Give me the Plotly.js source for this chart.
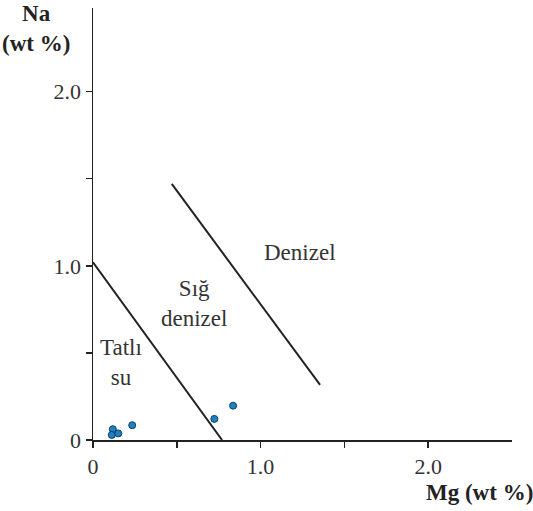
<!DOCTYPE html>
<html>
<head>
<meta charset="utf-8">
<script src="https://cdn.plot.ly/plotly-3.0.1.min.js"></script>
<style>html,body{margin:0;padding:0;background:#fff;}#chart{width:533px;height:511px;}</style>
</head>
<body>
<div id="chart"></div>
<script>
// Sample points
const mgValues = [0.118, 0.112, 0.151, 0.234, 0.724, 0.836];
const naValues = [0.062, 0.029, 0.038, 0.085, 0.121, 0.197];

// Boundary lines
const tatliLineX = [0, 0.77];
const tatliLineY = [1.02, 0];
const denizelLineX = [0.47, 1.355];
const denizelLineY = [1.47, 0.316];

// Ticks
const tickVals = [0, 0.5, 1.0, 1.5, 2.0];
const tickText = ["0", "", "1.0", "", "2.0"];

// Region labels
const regionLabels = ["Denizel", "Sığ<br>denizel", "Tatlı<br>su"];
const regionX = [1.236, 0.603, 0.167];
const regionY = [1.075, 0.785, 0.445];

const serif = "Times New Roman, Liberation Serif, DejaVu Serif, serif";

const traces = [
  {x: tatliLineX, y: tatliLineY, mode: "lines", line: {color: "#222", width: 2}, hoverinfo: "skip"},
  {x: denizelLineX, y: denizelLineY, mode: "lines", line: {color: "#222", width: 2}, hoverinfo: "skip"},
  {x: mgValues, y: naValues, mode: "markers",
   marker: {color: "#1f80c4", size: 7, line: {color: "#10405e", width: 1}}}
];

const annotations = regionLabels.map((t, i) => ({
  x: regionX[i], y: regionY[i], xref: "x", yref: "y", text: t, showarrow: false,
  font: {family: serif, size: 23, color: "#333"}, align: "center"
}));
annotations.push({
  xref: "paper", yref: "paper", x: -0.135, y: 1.02, xanchor: "center", yanchor: "top",
  text: "<b>Na<br>(wt %)</b>", showarrow: false, align: "center",
  font: {family: serif, size: 23, color: "#222"}
});
annotations.push({
  xref: "paper", yref: "paper", x: 1.055, y: -0.088, xanchor: "right", yanchor: "top",
  text: "<b>Mg (wt %)</b>", showarrow: false,
  font: {family: serif, size: 23, color: "#222"}
});

const axisCommon = {
  showgrid: false, zeroline: false, showline: true, linecolor: "#222", linewidth: 1.5,
  ticks: "outside", ticklen: 6, tickcolor: "#222", tickwidth: 1.5,
  tickvals: tickVals, ticktext: tickText,
  tickfont: {family: serif, size: 22, color: "#333"}
};

const layout = {
  width: 533, height: 511,
  margin: {l: 93, r: 21, t: 8, b: 71},
  showlegend: false,
  font: {family: serif},
  plot_bgcolor: "#fff", paper_bgcolor: "#fff",
  xaxis: Object.assign({}, axisCommon, {range: [0, 2.5]}),
  yaxis: Object.assign({}, axisCommon, {range: [0, 2.48]}),
  annotations: annotations
};

Plotly.newPlot("chart", traces, layout, {displayModeBar: false, staticPlot: true});
</script>
</body>
</html>
